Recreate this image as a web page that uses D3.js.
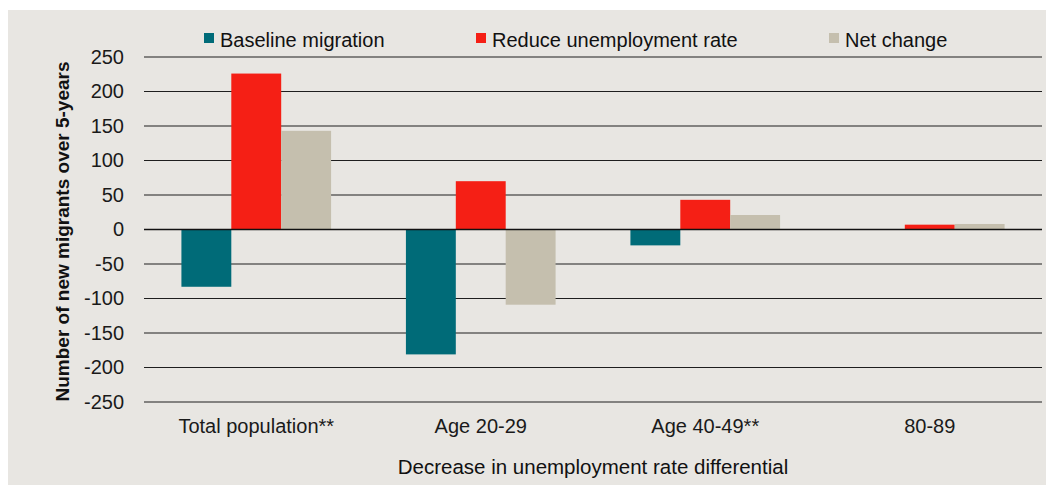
<!DOCTYPE html>
<html>
<head>
<meta charset="utf-8">
<script src="https://cdn.jsdelivr.net/npm/d3@7"></script>
<style>
  html, body { margin: 0; padding: 0; background: #fff; }
  svg { display: block; font-family: "Liberation Sans", Arial, sans-serif; }
</style>
</head>
<body>
<div id="chart"></div>
<script>
// data
const categories = ["Total population**", "Age 20-29", "Age 40-49**", "80-89"];
const series = ["Baseline migration", "Reduce unemployment rate", "Net change"];
const baseline = [-83, -181, -23, 0];
const reduceRate = [226, 70, 43, 7];
const netChange = [143, -109, 21, 8];
const yTicks = [250, 200, 150, 100, 50, 0, -50, -100, -150, -200, -250];
const colors = ["#006B78", "#F51F15", "#C5BFAE"];

const width = 1059;
const height = 485;
const margin = { top: 57, right: 17, bottom: 83, left: 144 };

const svg = d3.select("#chart")
  .append("svg")
  .attr("width", width)
  .attr("height", height);

// grey panel
svg.append("rect")
  .attr("x", 8).attr("y", 10)
  .attr("width", 1038).attr("height", 475)
  .attr("fill", "#E8E6E2");

const x0 = d3.scaleBand()
  .domain(categories)
  .range([margin.left, width - margin.right])
  .paddingInner(0).paddingOuter(0);

const x1 = d3.scaleBand()
  .domain(series)
  .range([0, x0.bandwidth()])
  .paddingInner(0).paddingOuter(0.75);

const y = d3.scaleLinear()
  .domain([-250, 250])
  .range([height - margin.bottom, margin.top]);

// gridlines
svg.append("g")
  .selectAll("line")
  .data(yTicks)
  .enter()
  .append("line")
  .attr("x1", margin.left)
  .attr("x2", width - margin.right)
  .attr("y1", d => y(d))
  .attr("y2", d => y(d))
  .attr("stroke", "#1e1e1e")
  .attr("stroke-width", 1.2);

// y axis labels (no ticks / domain), plain hyphen for negatives
const yAxis = svg.append("g")
  .attr("transform", `translate(${margin.left - 20},0)`)
  .call(d3.axisLeft(y).tickValues(yTicks).tickSize(0).tickPadding(0)
    .tickFormat(d => String(d)));
yAxis.select(".domain").remove();
yAxis.selectAll("text")
  .attr("fill", "#1a1a1a")
  .style("font-size", "20px")
  .style("font-family", "Liberation Sans, Arial, sans-serif");

// bars
const rows = categories.map((c, i) => ({
  cat: c,
  vals: [baseline[i], reduceRate[i], netChange[i]]
}));

const groups = svg.append("g")
  .selectAll("g")
  .data(rows)
  .enter()
  .append("g")
  .attr("transform", d => `translate(${x0(d.cat)},0)`);

groups.selectAll("rect")
  .data(d => d.vals.map((v, j) => ({ key: series[j], value: v, j })))
  .enter()
  .append("rect")
  .attr("x", d => x1(d.key))
  .attr("width", x1.bandwidth())
  .attr("y", d => y(Math.max(0, d.value)))
  .attr("height", d => Math.abs(y(d.value) - y(0)))
  .attr("fill", d => colors[d.j]);

// zero line on top of bars
svg.append("line")
  .attr("x1", margin.left)
  .attr("x2", width - margin.right)
  .attr("y1", y(0))
  .attr("y2", y(0))
  .attr("stroke", "#111")
  .attr("stroke-width", 1.5);

// x category labels
const xAxis = svg.append("g")
  .attr("transform", `translate(0,${height - margin.bottom})`)
  .call(d3.axisBottom(x0).tickSize(0).tickPadding(17));
xAxis.select(".domain").remove();
xAxis.selectAll("text")
  .attr("fill", "#1a1a1a")
  .style("font-size", "20px")
  .style("font-family", "Liberation Sans, Arial, sans-serif");

// axis titles
svg.append("text")
  .attr("x", (margin.left + width - margin.right) / 2)
  .attr("y", 474)
  .attr("text-anchor", "middle")
  .attr("fill", "#111")
  .style("font-size", "20.5px")
  .text("Decrease in unemployment rate differential");

svg.append("text")
  .attr("transform", `translate(69,${(margin.top + height - margin.bottom) / 2 + 2}) rotate(-90)`)
  .attr("text-anchor", "middle")
  .attr("fill", "#111")
  .style("font-size", "19px")
  .style("font-weight", "bold")
  .text("Number of new migrants over 5-years");

// legend
const legendX = [204, 476, 829];
const legend = svg.append("g")
  .selectAll("g")
  .data(series)
  .enter()
  .append("g")
  .attr("transform", (d, i) => `translate(${legendX[i]},33)`);

legend.append("rect")
  .attr("width", 10).attr("height", 10)
  .attr("fill", (d, i) => colors[i]);

legend.append("text")
  .attr("x", 16)
  .attr("y", 14)
  .attr("fill", "#111")
  .style("font-size", "20px")
  .text(d => d);
</script>
</body>
</html>
